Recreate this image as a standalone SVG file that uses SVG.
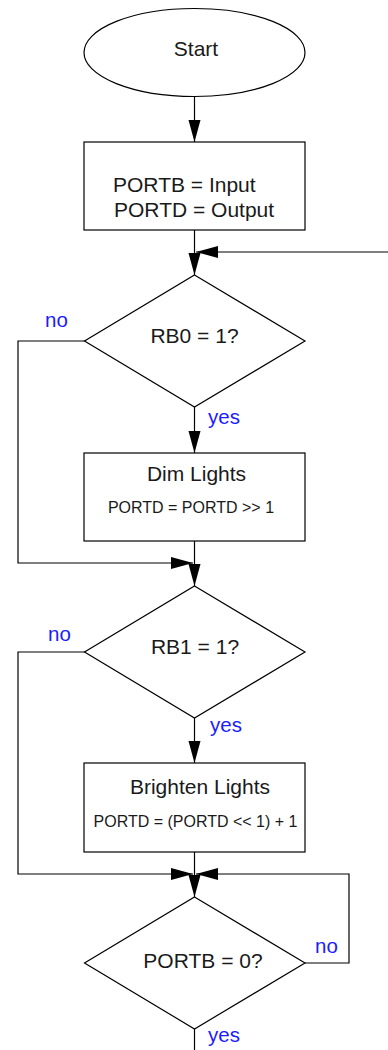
<svg xmlns="http://www.w3.org/2000/svg" width="388" height="1050" viewBox="0 0 388 1050">
  <style>
    .shape { fill: #fff; stroke: #000; stroke-width: 1.2; }
    .wire { fill: none; stroke: #000; stroke-width: 1.2; }
    .lbl { font-family: "Liberation Sans", Arial, Helvetica, sans-serif; font-size: 21px; fill: #1a1a1a; }
    .code { font-family: "Liberation Sans", Arial, Helvetica, sans-serif; font-size: 16px; fill: #1a1a1a; }
    .branch { font-family: "Liberation Sans", Arial, Helvetica, sans-serif; font-size: 20.5px; fill: #1c1cff; }
    .mid { text-anchor: middle; }
  </style>
  <defs>
    <marker id="arrow" markerUnits="userSpaceOnUse" markerWidth="23" markerHeight="12" refX="22" refY="6" orient="auto" overflow="visible">
      <path d="M0,0 L22,6 L0,12 Z" fill="#000"/>
    </marker>
  </defs>

  <!-- connectors -->
  <g id="connectors">
    <path class="wire" d="M194.5,96.5 V142" marker-end="url(#arrow)"/>
    <path class="wire" d="M194.5,230 V275" marker-end="url(#arrow)"/>
    <path class="wire" d="M388,252 H196" marker-end="url(#arrow)"/>
    <path class="wire" d="M194.5,407 V453" marker-end="url(#arrow)"/>
    <path class="wire" d="M85,341 H18 V563 H193" marker-end="url(#arrow)"/>
    <path class="wire" d="M194.5,541 V586" marker-end="url(#arrow)"/>
    <path class="wire" d="M194.5,718 V763" marker-end="url(#arrow)"/>
    <path class="wire" d="M85,652 H18 V874 H193" marker-end="url(#arrow)"/>
    <path class="wire" d="M194.5,852 V897" marker-end="url(#arrow)"/>
    <path class="wire" d="M305,963 H349 V874 H196" marker-end="url(#arrow)"/>
    <path class="wire" d="M194.5,1029 V1050"/>
  </g>

  <!-- start terminal -->
  <g id="start">
    <ellipse class="shape" cx="194.5" cy="52.5" rx="110.5" ry="44"/>
    <text class="lbl mid" x="196" y="55.5">Start</text>
  </g>

  <!-- port setup -->
  <g id="init">
    <rect class="shape" x="84" y="142" width="221" height="88"/>
    <text class="lbl" x="113" y="192">PORTB = Input</text>
    <text class="lbl" x="114" y="217">PORTD = Output</text>
  </g>

  <!-- RB0 test -->
  <g id="test-rb0">
    <polygon class="shape" points="194.5,275 305,341 194.5,407 84.5,341"/>
    <text class="lbl mid" x="194.5" y="342.5">RB0 = 1?</text>
    <text class="branch" x="45" y="327">no</text>
    <text class="branch" x="208" y="424">yes</text>
  </g>

  <!-- dim step -->
  <g id="dim">
    <rect class="shape" x="84" y="453" width="221" height="88"/>
    <text class="lbl mid" x="196.5" y="481">Dim Lights</text>
    <text class="code mid" x="191" y="513">PORTD = PORTD &gt;&gt; 1</text>
  </g>

  <!-- RB1 test -->
  <g id="test-rb1">
    <polygon class="shape" points="194.5,586 305,652 194.5,718 84.5,652"/>
    <text class="lbl mid" x="195" y="654">RB1 = 1?</text>
    <text class="branch" x="48" y="641">no</text>
    <text class="branch" x="210" y="732">yes</text>
  </g>

  <!-- brighten step -->
  <g id="brighten">
    <rect class="shape" x="84" y="763" width="221" height="89"/>
    <text class="lbl mid" x="200" y="794">Brighten Lights</text>
    <text class="code mid" x="195.5" y="827">PORTD = (PORTD &lt;&lt; 1) + 1</text>
  </g>

  <!-- PORTB release test -->
  <g id="test-portb">
    <polygon class="shape" points="194.5,897 305,963 194.5,1029 84.5,963"/>
    <text class="lbl mid" x="203" y="968">PORTB = 0?</text>
    <text class="branch" x="315" y="953">no</text>
    <text class="branch" x="208" y="1042">yes</text>
  </g>
</svg>
